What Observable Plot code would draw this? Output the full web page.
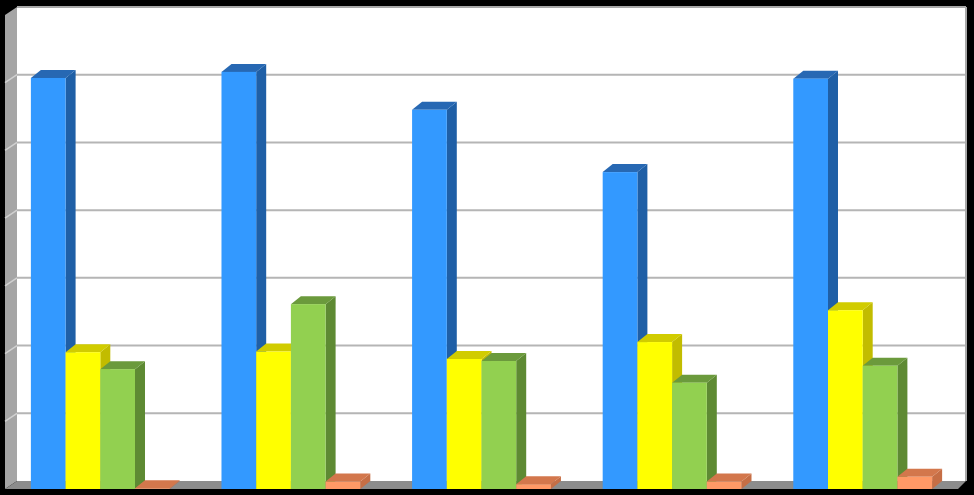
<!DOCTYPE html>
<html>
<head>
<meta charset="utf-8">
<script src="https://cdn.jsdelivr.net/npm/d3@7"></script>
<script src="https://cdn.jsdelivr.net/npm/@observablehq/plot@0.6"></script>
<style>
  html, body { margin: 0; padding: 0; background: #000; }
  #chart svg { display: block; }
</style>
</head>
<body>
<div id="chart"></div>
<script>
// ---- data ----
const groups = ["1", "2", "3", "4", "5"];
const series = ["A", "B", "C", "D"];
const seriesA = [6.07, 6.16, 5.60, 4.68, 6.06];
const seriesB = [2.02, 2.03, 1.92, 2.17, 2.64];
const seriesC = [1.77, 2.73, 1.89, 1.57, 1.82];
const seriesD = [0.01, 0.11, 0.07, 0.11, 0.18];
const gridTicks = [1, 2, 3, 4, 5, 6];

// ---- styles ----
const faceColors = {
  A: {front: "#3399ff", side: "#1f5fa6", top: "#2768b3"},
  B: {front: "#ffff00", side: "#c2bc00", top: "#d1cc00"},
  C: {front: "#92d050", side: "#5e8a33", top: "#6b9a3c"},
  D: {front: "#ff9966", side: "#c66e45", top: "#d3774c"}
};
const BDX = 10, BDY = -8;          // bar depth offset
const WLX = 12, WRX = 8, WDY = -8;  // wall depth offsets (left / right)

const allSeries = [seriesA, seriesB, seriesC, seriesD];
const barData = [];
groups.forEach((g, gi) => {
  series.forEach((s, si) => {
    barData.push({group: g, series: s, value: allSeries[si][gi]});
  });
});

function renderWalls(index, scales, values, dim) {
  const W = dim.width, H = dim.height;
  const x0 = dim.marginLeft, x1 = W - dim.marginRight;
  const yb = H - dim.marginBottom, yt = dim.marginTop;
  const bl = x0 + WLX, br = x1 + WRX;
  const g = d3.create("svg:g");
  // back wall
  g.append("rect").attr("x", bl).attr("y", yt + WDY)
    .attr("width", br - bl).attr("height", yb - yt).attr("fill", "#ffffff");
  // left wall
  g.append("polygon")
    .attr("points", [[x0, yt], [bl, yt + WDY], [bl, yb + WDY], [x0, yb]].join(" "))
    .attr("fill", "#a5a5a5");
  // floor
  g.append("polygon")
    .attr("points", [[x0, yb], [bl, yb + WDY], [br, yb + WDY], [x1, yb]].join(" "))
    .attr("fill", "#8c8c8c");
  // gridlines on left wall and back wall
  for (const t of gridTicks) {
    const y = scales.y(t);
    g.append("line").attr("x1", x0).attr("y1", y).attr("x2", bl).attr("y2", y + WDY)
      .attr("stroke", "#d0d0d0").attr("stroke-width", 1.5);
    g.append("line").attr("x1", bl).attr("y1", y + WDY).attr("x2", br).attr("y2", y + WDY)
      .attr("stroke", "#b5b5b5").attr("stroke-width", 2);
  }
  // top and right edges of back wall
  g.append("line").attr("x1", bl).attr("x2", br)
    .attr("y1", yt + WDY).attr("y2", yt + WDY).attr("stroke", "#a8a8a8").attr("stroke-width", 2);
  g.append("line").attr("x1", br).attr("x2", br)
    .attr("y1", yt + WDY).attr("y2", yb + WDY).attr("stroke", "#a8a8a8").attr("stroke-width", 2);
  return g.node();
}

function renderBars(index, scales, values) {
  const g = d3.create("svg:g");
  const bw = typeof scales.x.bandwidth === "function" ? scales.x.bandwidth() : 34.7;
  for (const i of index) {
    const d = barData[i];
    const c = faceColors[d.series];
    const x = values.x[i];
    const ya = values.y1[i], yb2 = values.y2[i];
    const top = Math.min(ya, yb2), bot = Math.max(ya, yb2);
    // side face
    g.append("polygon")
      .attr("points", [[x + bw, top], [x + bw + BDX, top + BDY], [x + bw + BDX, bot + BDY], [x + bw, bot]].join(" "))
      .attr("fill", c.side);
    // top face
    g.append("polygon")
      .attr("points", [[x, top], [x + BDX, top + BDY], [x + bw + BDX, top + BDY], [x + bw, top]].join(" "))
      .attr("fill", c.top);
    // front face
    g.append("rect").attr("x", x).attr("y", top).attr("width", bw).attr("height", bot - top)
      .attr("fill", c.front);
  }
  return g.node();
}

const chart = Plot.plot({
  width: 974,
  height: 495,
  marginLeft: 5,
  marginRight: 16,
  marginTop: 15,
  marginBottom: 6,
  style: {background: "#000000"},
  fx: {domain: groups, padding: 0, round: false, axis: null},
  x: {domain: series, paddingInner: 0, paddingOuter: 0.746, round: false, axis: null},
  y: {domain: [0, 7], axis: null},
  marks: [
    Plot.frame({facet: "super", render: renderWalls}),
    Plot.barY(barData, {fx: "group", x: "series", y: "value", render: renderBars})
  ]
});
document.getElementById("chart").appendChild(chart);
</script>
</body>
</html>
